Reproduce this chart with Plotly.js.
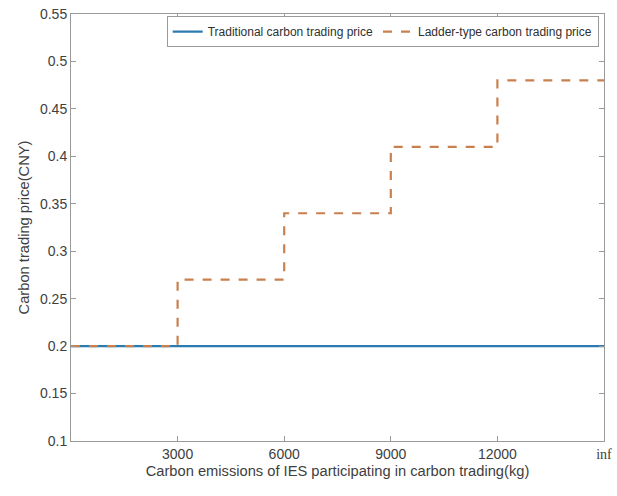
<!DOCTYPE html>
<html>
<head>
<meta charset="utf-8">
<script src="https://cdn.plot.ly/plotly-3.0.1.min.js"></script>
<style>html,body{margin:0;padding:0;background:#fff;}#chart{width:617px;height:496px;}</style>
</head>
<body>
<div id="chart"></div>
<script>
// Data
const emissionBreaks = [0, 3000, 6000, 9000, 12000, 15000];
const traditionalPrice = [0.2, 0.2, 0.2, 0.2, 0.2, 0.2];
const ladderPrice = [0.2, 0.27, 0.34, 0.41, 0.48, 0.48];
const xTickVals = [3000, 6000, 9000, 12000, 15000];
const xTickText = ['3000', '6000', '9000', '12000', '<span style="font-family:\'Liberation Serif\',serif">inf</span>'];
const seriesNames = ['Traditional carbon trading price', 'Ladder-type carbon trading price'];

const traces = [
  {
    x: emissionBreaks, y: traditionalPrice, type: 'scatter', mode: 'lines',
    name: seriesNames[0], line: {color: '#2b7bb0', width: 2.2}
  },
  {
    x: emissionBreaks, y: ladderPrice, type: 'scatter', mode: 'lines',
    name: seriesNames[1], line: {color: '#c9804f', width: 2.2, dash: 'dash', shape: 'hv'}
  }
];

const axisCommon = {
  showline: true, linecolor: '#9a9a9a', linewidth: 1, mirror: 'ticks',
  ticks: 'inside', ticklen: 5, tickcolor: '#9a9a9a', showgrid: false, zeroline: false,
  tickfont: {family: 'Liberation Sans, Arial, sans-serif', size: 14, color: '#404040'}
};

const layout = {
  width: 617, height: 496,
  margin: {l: 71, r: 13, t: 14, b: 55},
  paper_bgcolor: '#fff', plot_bgcolor: '#fff',
  font: {family: 'Liberation Sans, Arial, sans-serif', color: '#404040'},
  showlegend: true,
  legend: {
    orientation: 'h', x: 0.99, xanchor: 'right', y: 0.995, yanchor: 'top',
    bgcolor: '#fff', bordercolor: '#9a9a9a', borderwidth: 1,
    font: {size: 12, color: '#303030'}, tracegroupgap: 0, itemwidth: 30
  },
  xaxis: Object.assign({}, axisCommon, {
    range: [0, 15000], tickvals: xTickVals, ticktext: xTickText,
    title: {text: 'Carbon emissions of IES participating in carbon trading(kg)', font: {size: 14.7, color: '#404040'}, standoff: 4}
  }),
  yaxis: Object.assign({}, axisCommon, {
    range: [0.1, 0.55], dtick: 0.05, tick0: 0.1,
    title: {text: 'Carbon trading price(CNY)', font: {size: 14.7, color: '#404040'}, standoff: 6}
  })
};

Plotly.newPlot('chart', traces, layout, {displayModeBar: false, staticPlot: true});
</script>
</body>
</html>
